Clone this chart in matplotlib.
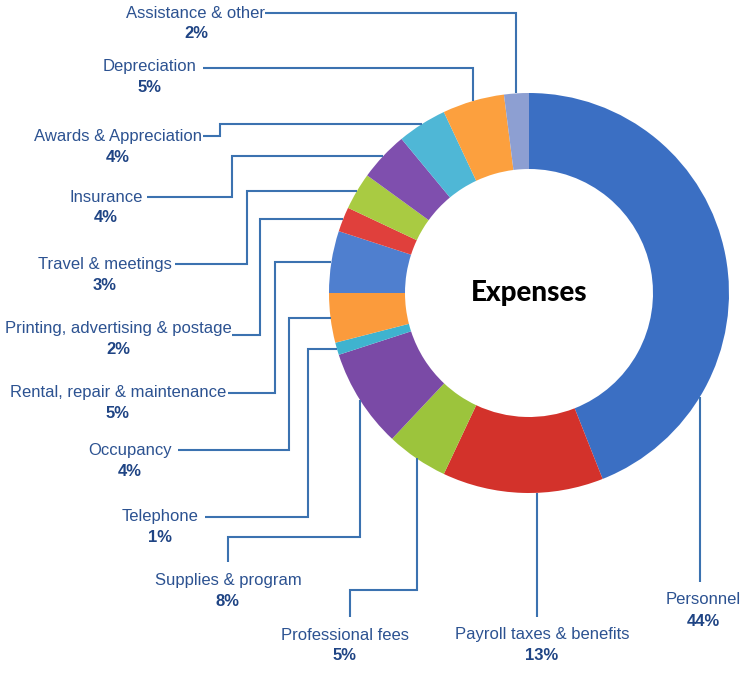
import numpy as np
import matplotlib.pyplot as plt

plt.rcParams['font.family'] = ['Liberation Sans Narrow', 'Liberation Sans', 'DejaVu Sans']

# datos del grafico (en orden horario desde arriba)
categorias = ['Personnel', 'Payroll taxes & benefits', 'Professional fees',
              'Supplies & program', 'Telephone', 'Occupancy',
              'Rental, repair & maintenance', 'Printing, advertising & postage',
              'Travel & meetings', 'Insurance', 'Awards & Appreciation',
              'Depreciation', 'Assistance & other']
porcentajes = [44, 13, 5, 8, 1, 4, 5, 2, 3, 4, 4, 5, 2]
colores = ['#3b6fc3', '#d3322b', '#9cc43c', '#7a4aa6', '#3fb3cf', '#fb9b3c',
           '#4f7fcf', '#e0403c', '#a9cb42', '#7f4fae', '#4fb7d6', '#fca03e',
           '#8d9fd2']

W, H = 743, 677
cx, cy, r_out, r_in = 529, 293, 200, 124

fig = plt.figure(figsize=(W / 100, H / 100), dpi=100)
ax = fig.add_axes([0, 0, 1, 1])
ax.set_xlim(0, W)
ax.set_ylim(0, H)
ax.set_aspect('equal')
ax.axis('off')

# donut
ax.pie(porcentajes, colors=colores, startangle=90, counterclock=False,
       radius=r_out, center=(cx, H - cy),
       wedgeprops=dict(width=r_out - r_in, linewidth=0))
ax.set_xlim(0, W)
ax.set_ylim(0, H)

ax.text(cx, H - cy, 'Expenses', ha='center', va='center', fontsize=20,
        family=['Lato', 'DejaVu Sans'], fontweight='black', color='black')

# posicion del texto (centro x, y en pixeles desde arriba) y ruta de la linea
# ruta 'h': sale del texto a la derecha, codo en x y sube/baja a la altura del ancla
# ruta 'v': sale arriba del texto, codo en y y va a la x del ancla
layout = {
    'Personnel':                      dict(pos=(703, 600), frac=0.766, route='v', start=(None, 582), elbow=None),
    'Payroll taxes & benefits':       dict(pos=(542, 635), frac=0.41, route='v', start=(None, 617), elbow=None),
    'Professional fees':              dict(pos=(345, 635), frac=0.5, route='v', start=(350, 617), elbow=590),
    'Supplies & program':             dict(pos=(228, 580), frac=0.5, route='v', start=(228, 562), elbow=537),
    'Telephone':                      dict(pos=(160, 517), frac=0.5, route='h', start=(205, 517), elbow=308),
    'Occupancy':                      dict(pos=(130, 450), frac=0.5, route='h', start=(178, 450), elbow=289),
    'Rental, repair & maintenance':   dict(pos=(118, 392), frac=0.5, route='h', start=(228, 393), elbow=275),
    'Printing, advertising & postage':dict(pos=(118, 328), frac=0.5, route='h', start=(232, 335), elbow=260),
    'Travel & meetings':              dict(pos=(105, 264), frac=0.5, route='h', start=(175, 264), elbow=247),
    'Insurance':                      dict(pos=(106, 197), frac=0.5, route='h', start=(147, 197), elbow=232),
    'Awards & Appreciation':          dict(pos=(118, 136), frac=0.5, route='h', start=(203, 136), elbow=220),
    'Depreciation':                   dict(pos=(150, 67), frac=0.5, route='h', start=(203, 68), elbow=None),
    'Assistance & other':             dict(pos=(196, 13), frac=0.5, route='h', start=(265, 13), elbow=None),
}

color_linea = '#3b72b0'
color_nombre = '#2c5291'
color_pct = '#1f4484'

acum = np.cumsum([0] + porcentajes)
for i, cat in enumerate(categorias):
    L = layout[cat]
    frac_ang = (acum[i] + L['frac'] * porcentajes[i]) / 100.0
    ang = np.deg2rad(90 - 360 * frac_ang)
    axp = cx + r_out * np.cos(ang)
    ayp = cy - r_out * np.sin(ang)

    sx, sy = L['start']
    if L['route'] == 'h':
        if L['elbow'] is None:
            xs = [sx, axp, axp]
            ys = [sy, sy, ayp]
        else:
            xs = [sx, L['elbow'], L['elbow'], axp]
            ys = [sy, sy, ayp, ayp]
    else:
        if L['elbow'] is None:
            xs = [axp, axp]
            ys = [sy, ayp]
        else:
            xs = [sx, sx, axp, axp]
            ys = [sy, L['elbow'], L['elbow'], ayp]
    ax.plot(xs, [H - y for y in ys], color=color_linea, lw=1.5,
            solid_joinstyle='miter', solid_capstyle='butt')

    tx, ty = L['pos']
    ax.text(tx, H - ty, cat, ha='center', va='center', fontsize=12,
            color=color_nombre)
    ax.text(tx, H - ty - 21, f'{porcentajes[i]}%', ha='center', va='center',
            fontsize=12, fontweight='bold', color=color_pct)

plt.savefig('out.png', dpi=100)
